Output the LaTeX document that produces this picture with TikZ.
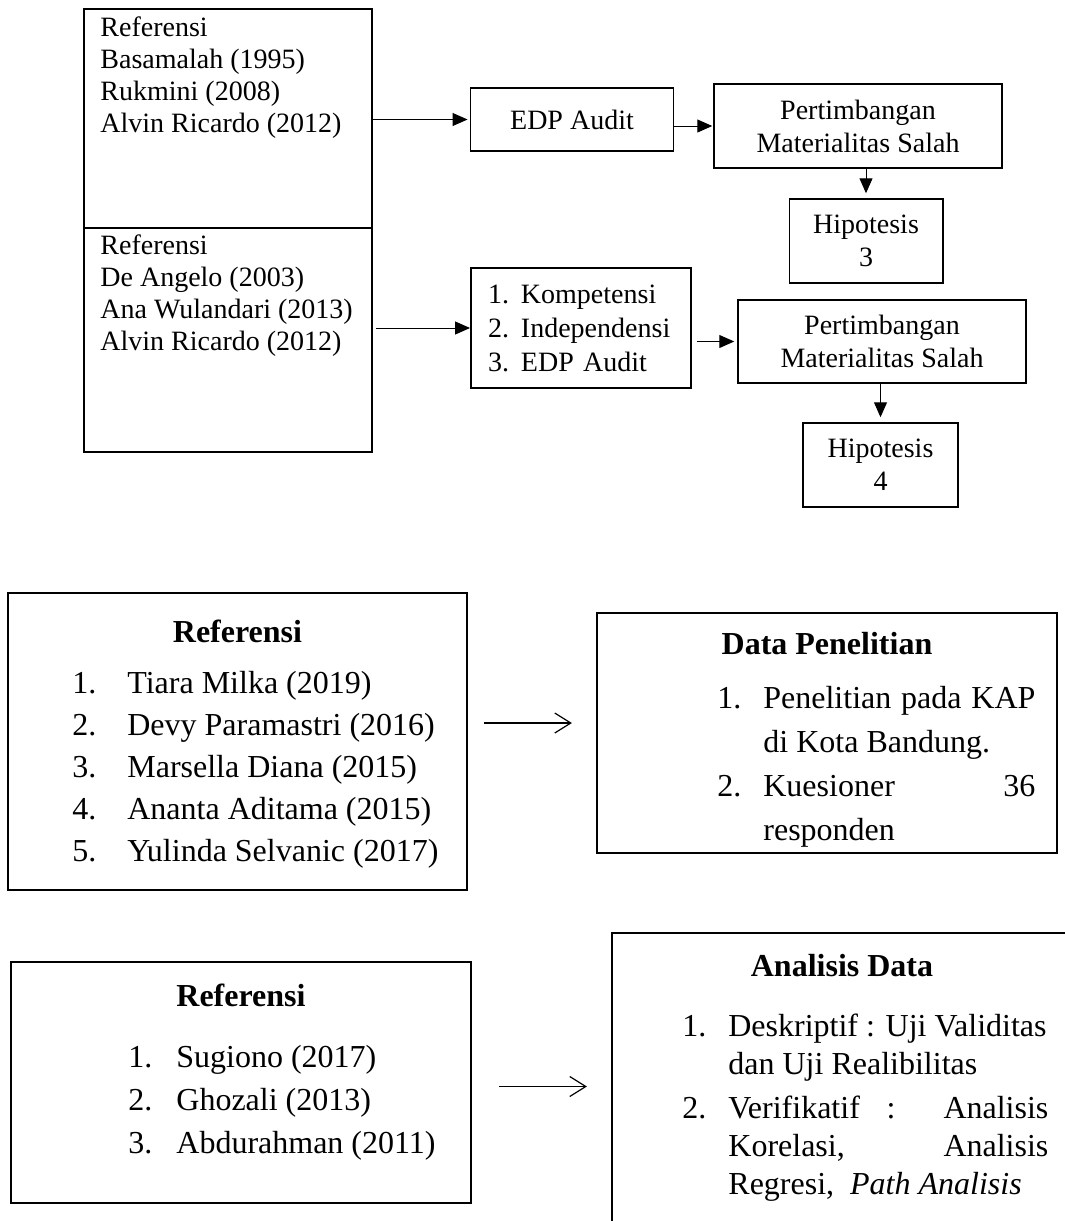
\documentclass[tikz,border=0pt]{standalone}
\usepackage{fontspec}
\setmainfont{Liberation Serif}
\usetikzlibrary{arrows.meta, calc}

\newcommand{\itemno}[2]{\makebox[#1][l]{#2}}

\begin{document}
\begin{tikzpicture}[
    x=0.5pt, y=-0.5pt,
    box/.style={draw, rectangle, line width=0.75pt, inner sep=0pt, align=center,
      font=\fontsize{14}{16.5}\selectfont},
    bigbox/.style={draw, rectangle, line width=1.1pt, inner sep=0pt},
    smalltext/.style={font=\fontsize{14}{16}\selectfont, align=left, inner sep=0pt, anchor=base west},
    listtext/.style={font=\fontsize{16}{21}\selectfont, align=left, inner sep=0pt, anchor=base west},
    titletext/.style={font=\fontsize{16}{21}\selectfont\bfseries, inner sep=0pt, anchor=base},
    arrow/.style={line width=0.5pt, -{Triangle[length=7.5pt,width=6.5pt]}},
    thinarrow/.style={line width=0.6pt, -{Straight Barb[length=8pt,width=10pt]}}
]
\useasboundingbox (0,0) rectangle (1065,1221);
\clip (0,0) rectangle (1065,1221);

% upper part: hypotheses 3 and 4 (text nodes sit on their last baseline)
\node[box, minimum width=144pt, minimum height=109.5pt] (refA) at (228,118.5) {};
\node[box, minimum width=144pt, minimum height=112pt] (refB) at (228,340) {};
\node[smalltext] (refAtext) at (100,132) {Referensi\\Basamalah (1995)\\Rukmini (2008)\\Alvin Ricardo (2012)};
\node[smalltext] (refBtext) at (100,350) {Referensi\\De Angelo (2003)\\Ana Wulandari (2013)\\Alvin Ricardo (2012)};

\node[box, minimum width=101.7pt, minimum height=31.5pt] (edp) at (572,119.5) {EDP Audit};
\node[box, minimum width=144pt, minimum height=42pt] (pertA) at (858,126) {Pertimbangan\\Materialitas Salah};
\node[box, minimum width=76.75pt, minimum height=42pt] (hipA) at (866,241) {Hipotesis\\3};

\node[box, minimum width=110.2pt, minimum height=60pt, align=left, text width=93pt,
  inner xsep=8.5pt, font=\fontsize{14}{17}\selectfont] (komp) at (581,328)
  {\itemno{16.5pt}{1.}Kompetensi\\\itemno{16.5pt}{2.}Independensi\\\itemno{16.5pt}{3.}EDP Audit};
\node[box, minimum width=144pt, minimum height=41.5pt] (pertB) at (882,341.5) {Pertimbangan\\Materialitas Salah};
\node[box, minimum width=77.5pt, minimum height=42pt] (hipB) at (880.5,465) {Hipotesis\\4};

\draw[arrow, shorten >=1pt] (edp.west -| refA.east) -- (edp.west);
\draw[arrow, shorten >=0.5pt] (pertA.west -| edp.east) -- (pertA.west);
\draw[arrow, shorten >=2.5pt] (hipA.north |- pertA.south) -- (hipA.north);
\draw[arrow, shorten <=1.5pt] (komp.west -| refB.east) -- (komp.west);
\draw[arrow, shorten <=2.5pt, shorten >=1.5pt] (pertB.west -| komp.east) -- (pertB.west);
\draw[arrow, shorten >=2.5pt] (hipB.north |- pertB.south) -- (hipB.north);

% lower part: references, data, analysis
\node[bigbox, minimum width=229.5pt, minimum height=148.5pt] (ref1) at (237.5,741.5) {};
\node[titletext] (ref1title) at (237.5,642) {Referensi};
\node[listtext] (ref1list) at (72,861)
  {\itemno{27.5pt}{1.}Tiara Milka (2019)\\
   \itemno{27.5pt}{2.}Devy Paramastri (2016)\\
   \itemno{27.5pt}{3.}Marsella Diana (2015)\\
   \itemno{27.5pt}{4.}Ananta Aditama (2015)\\
   \itemno{27.5pt}{5.}Yulinda Selvanic (2017)};

\node[bigbox, minimum width=230pt, minimum height=120pt] (data) at (827,733) {};
\node[titletext] (datatitle) at (827,654) {Data Penelitian};
\node[listtext, font=\fontsize{16}{22}\selectfont] (datalist) at (717,840)
  {\itemno{23pt}{1.}\makebox[136pt][s]{Penelitian pada KAP}\\
   \hspace*{23pt}di Kota Bandung.\\
   \itemno{23pt}{2.}\makebox[136pt]{Kuesioner\hfill 36}\\
   \hspace*{23pt}responden};

\node[bigbox, minimum width=230pt, minimum height=120.5pt] (ref2) at (241,1082.5) {};
\node[titletext] (ref2title) at (241,1006) {Referensi};
\node[listtext, font=\fontsize{16}{21.5}\selectfont] (ref2list) at (128,1153)
  {\itemno{24pt}{1.}Sugiono (2017)\\
   \itemno{24pt}{2.}Ghozali (2013)\\
   \itemno{24pt}{3.}Abdurahman (2011)};

\node[bigbox, minimum width=234pt, minimum height=153.5pt] (anl) at (846,1086.5) {};
\node[titletext] (anltitle) at (842,976) {Analisis Data};
\node[listtext, font=\fontsize{16}{19}\selectfont] (anllist) at (682,1194)
  {\itemno{23pt}{1.}Deskriptif : Uji Validitas\\
   \hspace*{23pt}dan Uji Realibilitas\\[3pt]
   \itemno{23pt}{2.}\makebox[160pt][s]{Verifikatif : Analisis}\\
   \hspace*{23pt}\makebox[160pt][s]{Korelasi, Analisis}\\
   \hspace*{23pt}Regresi,\ \ \textit{Path Analisis}};

\draw[thinarrow, shorten <=8pt, shorten >=12pt] ([yshift=5pt]data.west -| ref1.east) -- ([yshift=5pt]data.west);
\draw[thinarrow, shorten <=13.5pt, shorten >=12pt] (anl.west -| ref2.east) -- (anl.west);
\end{tikzpicture}
\end{document}
